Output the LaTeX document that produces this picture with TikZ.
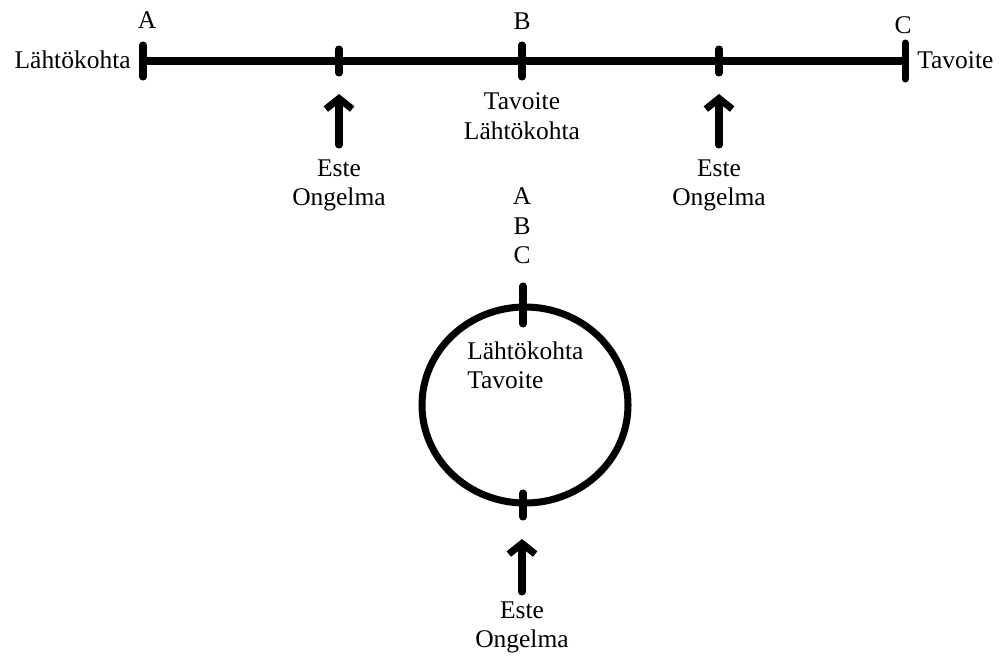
\documentclass[tikz,border=0pt]{standalone}
\usepackage{fontspec}
\setmainfont{Liberation Serif}
\usetikzlibrary{arrows.meta}

\begin{document}
\begin{tikzpicture}[x=0.02cm,y=-0.02cm,
  axis/.style={line width=4.5pt},
  tick/.style={line width=4pt,line cap=round},
  ring/.style={line width=4pt},
  push/.style={-{Straight Barb[length=6pt,width=15pt]},line width=4pt,line cap=round},
  lbl/.style={font=\fontsize{14.5}{17}\selectfont,inner sep=0pt,align=center}]
  \useasboundingbox (0,0) rectangle (1000,666);

  % time line
  \coordinate (a)  at (143,61);
  \coordinate (m1) at (339,61);
  \coordinate (b)  at (522,61);
  \coordinate (m2) at (719,61);
  \coordinate (c)  at (905,61);
  \draw[axis] (a) -- (c);
  \foreach \p/\h in {a/16,m1/12,b/16,m2/12,c/18}
    \draw[tick] (\p) ++(0,-\h) -- ++(0,2*\h);

  \node[lbl] (la) at (147,20) {A};
  \node[lbl] (lb) at (522,21) {B};
  \node[lbl] (lc) at (903,25) {C};
  \node[lbl,anchor=east] (start) at (131,60) {Lähtökohta};
  \node[lbl,anchor=west] (goal) at (917,60) {Tavoite};
  \node[lbl,anchor=north] (mid) at (522,92) {Tavoite\\Lähtökohta};

  % obstacles on the line
  \node[lbl,anchor=north] (e1) at (339,159) {Este\\Ongelma};
  \node[lbl,anchor=north] (e2) at (719,159) {Este\\Ongelma};
  \coordinate (h1) at (339,94);
  \coordinate (h2) at (719,94);
  \draw[push,shorten <=0.28cm] (e1.north) -- (h1);
  \draw[push,shorten <=0.28cm] (e2.north) -- (h2);

  % loop
  \coordinate (ctr) at (525,405);
  \coordinate (top) at (523,305);
  \coordinate (bot) at (523,505);
  \draw[ring] (ctr) ellipse [x radius=103, y radius=98];
  \draw[tick] (top) ++(0,-19) -- ++(0,38);
  \draw[tick] (bot) ++(0,-12) -- ++(0,24);

  \node[lbl,anchor=north] (abc) at (522,187) {A\\B\\C};
  \node[lbl,anchor=north west,align=left] (inner) at (467,341) {Lähtökohta\\Tavoite};
  \node[lbl,anchor=north] (e3) at (522,601) {Este\\Ongelma};
  \coordinate (h3) at (522,539);
  \draw[push,shorten <=0.18cm] (e3.north) -- (h3);
\end{tikzpicture}
\end{document}
